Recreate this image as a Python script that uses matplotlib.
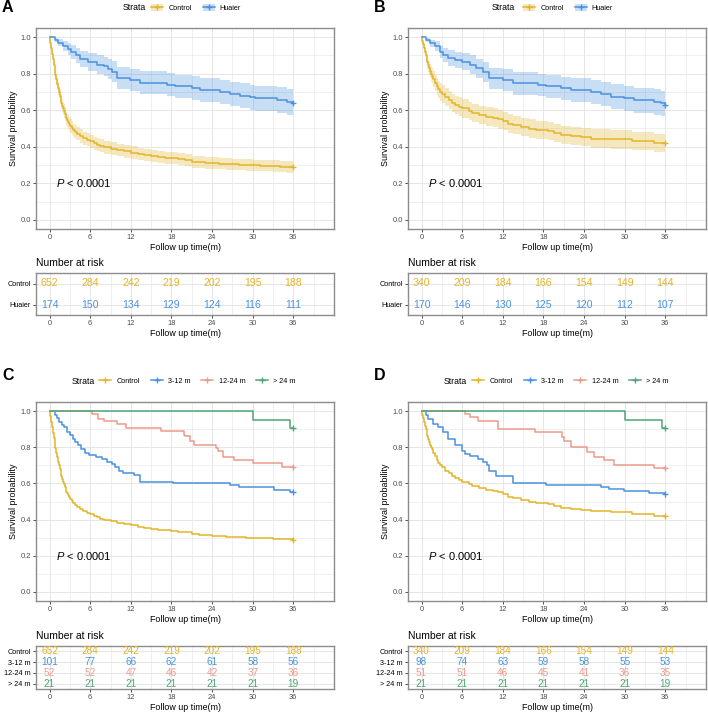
import numpy as np
import matplotlib
matplotlib.use('Agg')
import matplotlib.pyplot as plt
from matplotlib.lines import Line2D
from matplotlib.patches import Patch
from matplotlib.ticker import MultipleLocator, FormatStrFormatter

plt.rcParams['font.family'] = ['Liberation Sans', 'DejaVu Sans']
plt.rcParams['mathtext.fontset'] = 'custom'
plt.rcParams['mathtext.it'] = 'Liberation Sans:italic'
plt.rcParams['mathtext.rm'] = 'Liberation Sans'

# ---------------- data ----------------
ctrl_a_t = [0, 0.125, 0.25, 0.375, 0.5, 0.625, 0.75, 0.875, 1, 1.125, 1.25, 1.375, 1.5, 1.625,
            1.75, 1.875, 2, 2.125, 2.25, 2.375, 2.5, 2.625, 2.75, 2.875, 3, 3.25, 3.5, 3.75, 4,
            4.5, 5, 5.5, 6, 6.5, 7, 7.5, 8, 9, 10, 11, 12, 13, 14, 15, 16, 17, 18, 19, 20, 21,
            22, 23, 24, 25, 26, 27, 28, 29, 30, 31, 32, 33, 34, 35, 36]
ctrl_a_s = [1.0, 0.97, 0.94, 0.91, 0.88, 0.85, 0.82, 0.795, 0.77, 0.745, 0.72, 0.70, 0.68, 0.66,
            0.64, 0.625, 0.61, 0.595, 0.58, 0.567, 0.555, 0.545, 0.535, 0.525, 0.515, 0.502,
            0.49, 0.48, 0.472, 0.458, 0.447, 0.438, 0.43, 0.42, 0.412, 0.405, 0.398, 0.39,
            0.382, 0.375, 0.368, 0.36, 0.355, 0.35, 0.345, 0.34, 0.336, 0.333, 0.329, 0.318,
            0.316, 0.313, 0.31, 0.308, 0.306, 0.304, 0.302, 0.300, 0.299, 0.297, 0.296, 0.294,
            0.292, 0.290, 0.288]
ctrl_a_ci = [0.0, 0.012, 0.018, 0.022, 0.025, 0.028, 0.03, 0.031, 0.032, 0.033, 0.034, 0.034,
             0.035, 0.035, 0.036, 0.036, 0.037, 0.037, 0.037, 0.037, 0.037, 0.037, 0.037, 0.037,
             0.037, 0.037, 0.037, 0.037, 0.037, 0.037, 0.036, 0.036, 0.036, 0.036, 0.036, 0.035,
             0.035, 0.035, 0.035, 0.035, 0.034, 0.034, 0.034, 0.034, 0.033, 0.033, 0.033, 0.033,
             0.033, 0.032, 0.032, 0.032, 0.032, 0.032, 0.032, 0.031, 0.031, 0.031, 0.031, 0.031,
             0.031, 0.031, 0.031, 0.031, 0.031]

hua_a_t = [0, 0.8, 1.3, 2.0, 2.7, 3.2, 3.9, 4.5, 5.7, 7.0, 8.0, 8.7, 9.2, 10.0, 11.9, 13.4, 17.3,
           18.5, 21.0, 22.2, 25.2, 26.7, 28.1, 29.6, 30.3, 33.6, 35.0, 36.0]
hua_a_s = [1.0, 0.985, 0.97, 0.95, 0.935, 0.92, 0.90, 0.88, 0.865, 0.85, 0.84, 0.825, 0.81, 0.775,
           0.765, 0.75, 0.74, 0.73, 0.72, 0.71, 0.70, 0.69, 0.68, 0.67, 0.665, 0.655, 0.645, 0.638]
hua_a_ci = [0.0, 0.012, 0.02, 0.028, 0.034, 0.038, 0.042, 0.045, 0.048, 0.05, 0.052, 0.055, 0.057,
            0.06, 0.061, 0.062, 0.063, 0.064, 0.065, 0.066, 0.067, 0.067, 0.068, 0.069, 0.069,
            0.07, 0.07, 0.07]

ctrl_b_t = [0, 0.125, 0.25, 0.375, 0.5, 0.625, 0.75, 0.875, 1.0, 1.125, 1.25, 1.375, 1.5, 1.75,
            2, 2.25, 2.5, 2.75, 3, 3.5, 4, 4.5, 5, 5.5, 6, 7, 7.5, 8.5, 9.5, 10.5, 11.3, 12, 12.7,
            13.5, 14.7, 15.8, 16.9, 18.6, 19.5, 20.6, 22, 23.5, 25, 28, 31, 34.3, 36]
ctrl_b_s = [1.0, 0.98, 0.96, 0.94, 0.92, 0.90, 0.88, 0.862, 0.845, 0.83, 0.815, 0.80, 0.79, 0.77,
            0.75, 0.73, 0.715, 0.70, 0.69, 0.67, 0.655, 0.64, 0.63, 0.62, 0.61, 0.595, 0.585,
            0.575, 0.565, 0.56, 0.55, 0.54, 0.527, 0.52, 0.51, 0.50, 0.49, 0.485, 0.475, 0.463,
            0.458, 0.452, 0.445, 0.44, 0.433, 0.422, 0.42]
ctrl_b_ci = [0.0, 0.012, 0.02, 0.025, 0.028, 0.031, 0.033, 0.035, 0.037, 0.038, 0.04, 0.041,
             0.042, 0.044, 0.045, 0.046, 0.047, 0.048, 0.048, 0.049, 0.05, 0.05, 0.05, 0.05,
             0.05, 0.05, 0.05, 0.05, 0.05, 0.05, 0.05, 0.05, 0.05, 0.05, 0.05, 0.05, 0.05, 0.05,
             0.05, 0.05, 0.05, 0.05, 0.05, 0.05, 0.05, 0.05, 0.05]

hua_b_t = [0, 0.7, 1.2, 2.0, 2.7, 3.2, 3.9, 4.9, 5.9, 7.1, 8.1, 9.1, 10.0, 12.0, 13.5, 17.2, 18.4,
           20.6, 22.0, 25.0, 26.5, 28.0, 29.9, 31.4, 34.3, 35.3, 36]
hua_b_s = [1.0, 0.985, 0.967, 0.95, 0.92, 0.90, 0.885, 0.875, 0.866, 0.85, 0.83, 0.81, 0.775,
           0.765, 0.747, 0.738, 0.73, 0.72, 0.71, 0.70, 0.69, 0.675, 0.665, 0.655, 0.645, 0.637,
           0.63]
hua_b_ci = [0.0, 0.012, 0.02, 0.028, 0.034, 0.038, 0.042, 0.045, 0.048, 0.05, 0.052, 0.055, 0.058,
            0.06, 0.061, 0.062, 0.063, 0.064, 0.065, 0.066, 0.067, 0.068, 0.069, 0.069, 0.07,
            0.07, 0.07]

m312_c_t = [0, 0.8, 1.1, 1.4, 1.8, 2.2, 2.6, 3.0, 3.4, 3.8, 4.2, 4.6, 5.2, 5.8, 6.8, 7.8, 8.5, 9.2,
            9.7, 10.2, 10.8, 12.5, 13.4, 18.3, 26.7, 27.9, 33.1, 35.5, 36]
m312_c_s = [1.0, 0.98, 0.96, 0.94, 0.925, 0.91, 0.885, 0.865, 0.845, 0.83, 0.81, 0.79, 0.77,
            0.755, 0.745, 0.735, 0.72, 0.71, 0.69, 0.67, 0.655, 0.645, 0.609, 0.60, 0.589, 0.578,
            0.564, 0.551, 0.551]
m1224_c_t = [0, 6.25, 7.2, 8.1, 9.9, 11.3, 16.4, 19.8, 20.0, 20.8, 21.3, 24.6, 24.9, 25.6, 27.2,
             30.1, 34.3, 36]
m1224_c_s = [1.0, 0.985, 0.957, 0.943, 0.926, 0.906, 0.887, 0.87, 0.86, 0.837, 0.81, 0.796, 0.778,
             0.748, 0.73, 0.711, 0.689, 0.689]
m24_c_t = [0, 30.1, 35.5, 36]
m24_c_s = [1.0, 0.952, 0.905, 0.905]

m312_d_t = [0, 0.7, 1.0, 1.7, 2.5, 3.2, 3.9, 4.9, 5.9, 6.4, 7.1, 8.3, 9.1, 9.6, 10.0, 11.0, 13.5,
            18.4, 26.5, 27.7, 29.9, 33.6, 36]
m312_d_s = [1.0, 0.98, 0.957, 0.93, 0.91, 0.883, 0.846, 0.81, 0.78, 0.763, 0.754, 0.735, 0.717,
            0.70, 0.67, 0.643, 0.605, 0.593, 0.58, 0.57, 0.56, 0.547, 0.54]
m1224_d_t = [0, 6.4, 7.1, 8.3, 11.3, 16.7, 20.8, 21.1, 22.1, 24.5, 25.5, 27.0, 28.4, 34.3, 36]
m1224_d_s = [1.0, 0.985, 0.967, 0.943, 0.902, 0.883, 0.856, 0.837, 0.804, 0.776, 0.744, 0.73,
             0.704, 0.685, 0.685]
m24_d_t = [0, 30.1, 35.5, 36]
m24_d_s = [1.0, 0.952, 0.905, 0.905]

risk_times = [0, 6, 12, 18, 24, 30, 36]
risk_a_control = [652, 284, 242, 219, 202, 195, 188]
risk_a_huaier = [174, 150, 134, 129, 124, 116, 111]
risk_b_control = [340, 209, 184, 166, 154, 149, 144]
risk_b_huaier = [170, 146, 130, 125, 120, 112, 107]
risk_c_control = [652, 284, 242, 219, 202, 195, 188]
risk_c_312 = [101, 77, 66, 62, 61, 58, 56]
risk_c_1224 = [52, 52, 47, 46, 42, 37, 36]
risk_c_24 = [21, 21, 21, 21, 21, 21, 19]
risk_d_control = [340, 209, 184, 166, 154, 149, 144]
risk_d_312 = [98, 74, 63, 59, 58, 55, 53]
risk_d_1224 = [51, 51, 46, 45, 41, 36, 35]
risk_d_24 = [21, 21, 21, 21, 21, 21, 19]

labels_two = ['Control', 'Huaier']
labels_four = ['Control', '3-12 m', '12-24 m', '> 24 m']
p_text = r'$P$ < 0.0001'

YEL = '#E4B42A'
BLU = '#4A92E0'
PNK = '#EC9A8D'
GRN = '#4FA676'

# ---------------- layout ----------------
W, H = 708, 712
fig = plt.figure(figsize=(W / 100, H / 100), dpi=100)
fig.patch.set_facecolor('white')


def rect(x0, x1, y0, y1):
    return [x0 / W, 1 - y1 / H, (x1 - x0) / W, (y1 - y0) / H]


GRID = '#E6E6E6'
SPINE = '#8C8C8C'
TICKC = '#4D4D4D'


def base_style(ax):
    ax.set_xlim(-2, 42)
    ax.xaxis.set_major_locator(MultipleLocator(6))
    ax.xaxis.set_minor_locator(MultipleLocator(3))
    ax.set_xticks(risk_times)
    ax.grid(which='major', color=GRID, lw=0.7, zorder=0)
    ax.grid(which='minor', color=GRID, lw=0.45, zorder=0)
    ax.set_axisbelow(True)
    for sp in ax.spines.values():
        sp.set_color(SPINE)
        sp.set_linewidth(1.0)
    ax.tick_params(which='major', length=2.2, width=0.6, color='#333333',
                   labelsize=5.4, labelcolor=TICKC, pad=1.5)
    ax.tick_params(which='minor', length=0)


def km_axes(r):
    ax = fig.add_axes(r)
    base_style(ax)
    ax.set_ylim(-0.05, 1.05)
    ax.yaxis.set_major_locator(MultipleLocator(0.2))
    ax.yaxis.set_minor_locator(MultipleLocator(0.1))
    ax.yaxis.set_major_formatter(FormatStrFormatter('%.1f'))
    ax.set_xlabel('Follow up time(m)', fontsize=6.4, labelpad=1.5)
    ax.set_ylabel('Survival probability', fontsize=6.4, labelpad=2)
    ax.text(0.9, 0.2, p_text, fontsize=8, ha='left', va='center')
    return ax


def km(ax, t, s, color, hw=None):
    t = np.asarray(t, float)
    s = np.asarray(s, float)
    if hw is not None:
        hw = np.asarray(hw, float)
        ax.fill_between(t, s - hw, np.minimum(s + hw, 1.0), step='post', color=color,
                        alpha=0.3, lw=0, zorder=2)
    ax.step(t, s, where='post', color=color, lw=1.1, zorder=3)
    ax.plot([t[-1]], [s[-1]], marker='+', color=color, ms=5, mew=1.0, zorder=4)


def risk_axes(r, rows, labels, colors, fs):
    ax = fig.add_axes(r)
    base_style(ax)
    n = len(rows)
    ax.set_ylim(0.5, n + 0.5)
    ypos = list(range(n, 0, -1))
    ax.set_yticks(ypos)
    ax.set_yticklabels(labels)
    ax.tick_params(axis='y', labelcolor='black', labelsize=5.2)
    for vals, y, c in zip(rows, ypos, colors):
        for t, v in zip(risk_times, vals):
            ax.text(t, y, str(v), color=c, fontsize=fs, ha='center', va='center')
    ax.set_xlabel('Follow up time(m)', fontsize=6.4, labelpad=1.0)
    ax.set_title('Number at risk', loc='left', fontsize=7.5, pad=5)
    return ax


def legend(strata_x, key_x, y, labels, colors, band):
    fig.text(strata_x / W, 1 - y / H, 'Strata', fontsize=6.3, ha='left', va='center')
    handles = []
    for c in colors:
        ln = Line2D([], [], color=c, lw=1.1, marker='+', ms=5, mew=1.0)
        if band:
            handles.append((Patch(facecolor=c, alpha=0.3, lw=0), ln))
        else:
            handles.append(ln)
    fig.legend(handles, labels, loc='center left', bbox_to_anchor=(key_x / W, 1 - y / H),
               ncol=len(labels), frameon=False, fontsize=5.2, handlelength=1.7,
               handletextpad=0.7, columnspacing=1.5, borderpad=0, borderaxespad=0,
               handleheight=1.2)


def panel_label(x, y, s):
    fig.text(x / W, 1 - y / H, s, fontsize=11.5, fontweight='bold', ha='left', va='center')


# Panel A
axA = km_axes(rect(36, 334, 28, 229))
km(axA, ctrl_a_t, ctrl_a_s, YEL, ctrl_a_ci)
km(axA, hua_a_t, hua_a_s, BLU, hua_a_ci)
risk_axes(rect(36, 334, 273, 315), [risk_a_control, risk_a_huaier], labels_two, [YEL, BLU], 7.6)
legend(123, 151, 8, labels_two, [YEL, BLU], True)
panel_label(2, 8, 'A')

# Panel B
axB = km_axes(rect(408, 706, 28, 229))
km(axB, ctrl_b_t, ctrl_b_s, YEL, ctrl_b_ci)
km(axB, hua_b_t, hua_b_s, BLU, hua_b_ci)
risk_axes(rect(408, 706, 273, 315), [risk_b_control, risk_b_huaier], labels_two, [YEL, BLU], 7.6)
legend(492, 523, 8, labels_two, [YEL, BLU], True)
panel_label(374, 8, 'B')

# Panel C
axC = km_axes(rect(36, 334, 402, 601))
km(axC, ctrl_a_t, ctrl_a_s, YEL)
km(axC, m312_c_t, m312_c_s, BLU)
km(axC, m1224_c_t, m1224_c_s, PNK)
km(axC, m24_c_t, m24_c_s, GRN)
risk_axes(rect(36, 334, 646, 689), [risk_c_control, risk_c_312, risk_c_1224, risk_c_24],
          labels_four, [YEL, BLU, PNK, GRN], 7.2)
legend(72, 99, 381, labels_four, [YEL, BLU, PNK, GRN], False)
panel_label(2, 376, 'C')

# Panel D
axD = km_axes(rect(408, 706, 402, 601))
km(axD, ctrl_b_t, ctrl_b_s, YEL)
km(axD, m312_d_t, m312_d_s, BLU)
km(axD, m1224_d_t, m1224_d_s, PNK)
km(axD, m24_d_t, m24_d_s, GRN)
risk_axes(rect(408, 706, 646, 689), [risk_d_control, risk_d_312, risk_d_1224, risk_d_24],
          labels_four, [YEL, BLU, PNK, GRN], 7.2)
legend(444, 472, 381, labels_four, [YEL, BLU, PNK, GRN], False)
panel_label(374, 376, 'D')

fig.savefig('out.png', dpi=100, facecolor='white')
